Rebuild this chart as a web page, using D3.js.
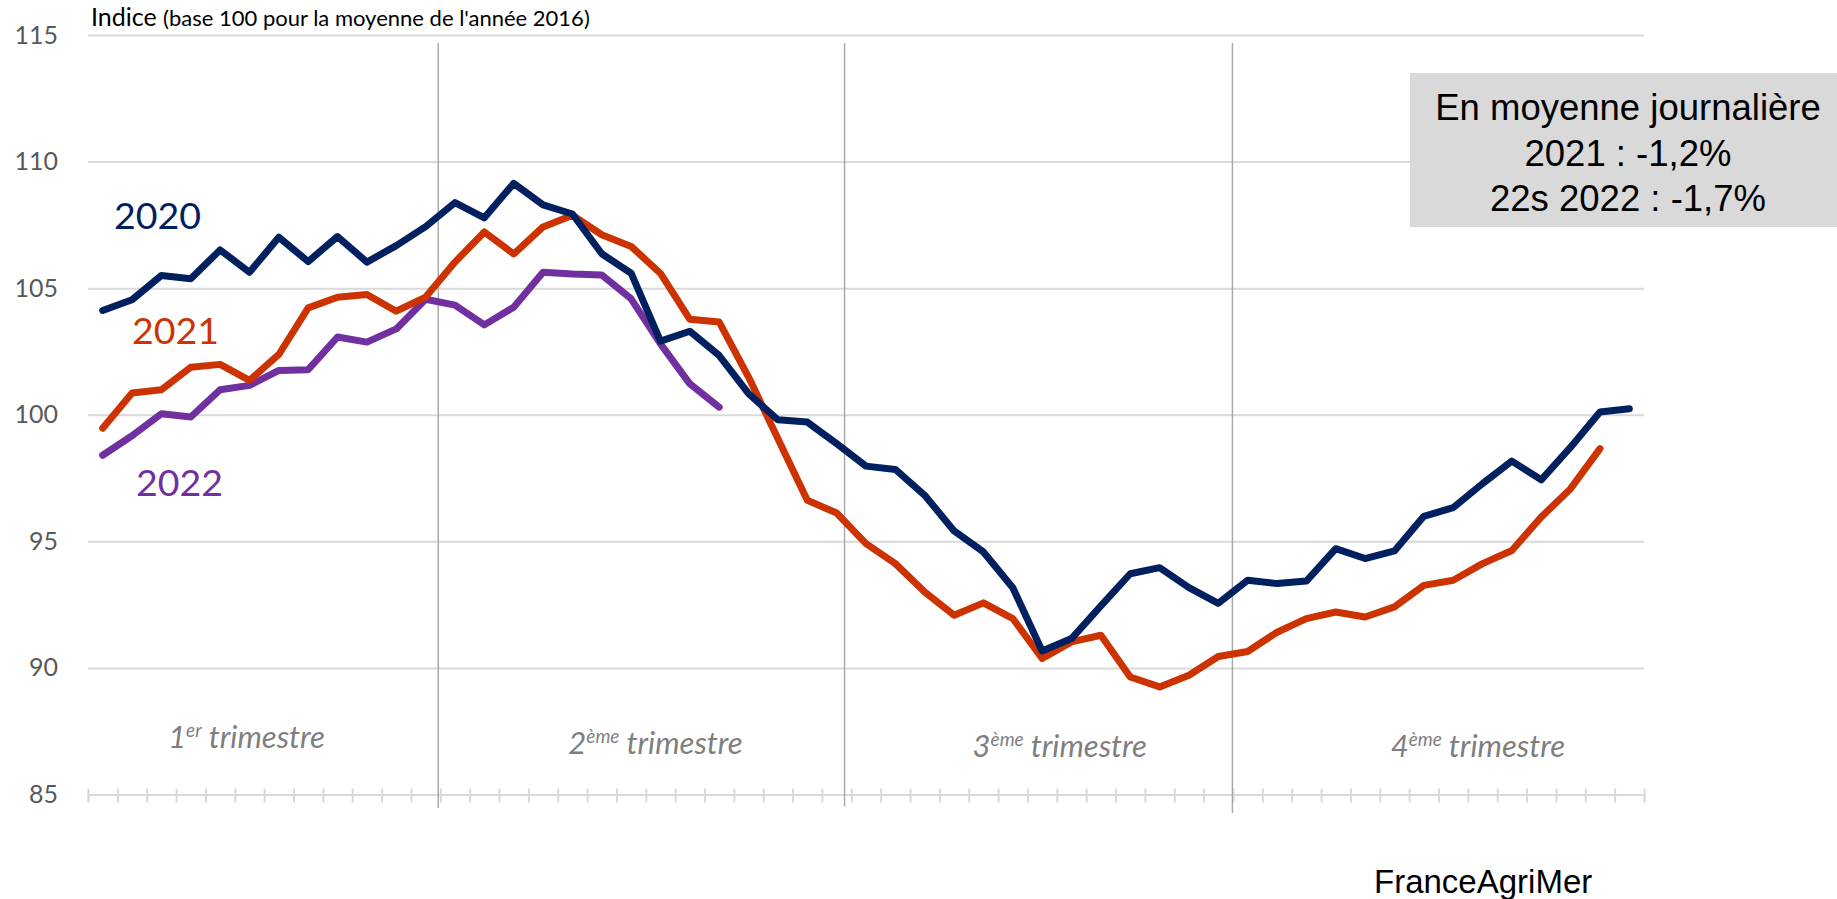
<!DOCTYPE html>
<html>
<head>
<meta charset="utf-8">
<script src="https://cdn.jsdelivr.net/npm/d3@7/dist/d3.min.js"></script>
<style>
  html, body { margin: 0; padding: 0; background: #ffffff; }
  svg { display: block; }
</style>
</head>
<body>
<svg id="chart" width="1837" height="899"></svg>
<script>
// ---------- DATA ----------
const weeks = d3.range(1, 54).map(w => "S" + w);   // 53 weekly categories
const yTicks = [85, 90, 95, 100, 105, 110, 115];

const values2020 = [104.12, 104.54, 105.50, 105.37, 106.51, 105.63, 107.01, 106.05, 107.04, 106.03,
  106.68, 107.43, 108.38, 107.78, 109.14, 108.29, 107.93, 106.36, 105.59, 102.91,
  103.30, 102.34, 100.83, 99.80, 99.71, 98.86, 97.97, 97.84, 96.82, 95.41,
  94.58, 93.17, 90.67, 91.16, 92.45, 93.72, 93.96, 93.17, 92.55, 93.46,
  93.33, 93.43, 94.71, 94.32, 94.62, 95.99, 96.33, 97.28, 98.17, 97.43,
  98.72, 100.11, 100.24];

const values2021 = [99.47, 100.86, 100.99, 101.88, 101.99, 101.36, 102.38, 104.22, 104.64, 104.75,
  104.09, 104.65, 106.03, 107.22, 106.35, 107.42, 107.88, 107.11, 106.65, 105.58,
  103.77, 103.66, 101.49, 99.05, 96.62, 96.12, 94.91, 94.12, 93.00, 92.08,
  92.57, 91.95, 90.37, 91.03, 91.29, 89.64, 89.25, 89.71, 90.45, 90.65,
  91.41, 91.95, 92.21, 92.01, 92.41, 93.26, 93.46, 94.12, 94.64, 95.96,
  97.08, 98.66];

const values2022 = [98.40, 99.17, 100.04, 99.91, 100.99, 101.16, 101.75, 101.78, 103.07, 102.87,
  103.39, 104.56, 104.33, 103.55, 104.25, 105.63, 105.56, 105.52, 104.58, 102.80,
  101.22, 100.30];

const seriesNames = ["2020", "2021", "2022"];
const seriesColors = ["#002060", "#CC3300", "#7030A0"];

// Quarter boundaries (in weeks from start) and quarter labels
const quarterBounds = [11.93, 25.77, 38.98];
const quarterNums = ["1", "2", "3", "4"];
const quarterSups = ["er", "ème", "ème", "ème"];
const quarterCenters = [5.4, 19.33, 33.1, 47.34];

const boxLines = ["En moyenne journalière", "2021 : -1,2%", "22s 2022 : -1,7%"];

// ---------- LAYOUT ----------
const svg = d3.select("#chart");
const plotLeft = 88, plotRight = 1644, plotTop = 35, plotBottom = 794.5;

const x = d3.scaleBand().domain(weeks).range([plotLeft, plotRight]).paddingInner(0).paddingOuter(0);
const xc = i => x(weeks[i]) + x.bandwidth() / 2;
const xw = d3.scaleLinear().domain([0, weeks.length]).range([plotLeft, plotRight]);
const y = d3.scaleLinear().domain([85, 115]).range([plotBottom, plotTop]);

// gridlines
const grid = svg.append("g")
  .attr("transform", `translate(${plotLeft},0)`)
  .call(d3.axisLeft(y).tickValues(yTicks).tickSize(-(plotRight - plotLeft)).tickFormat(""));
grid.select(".domain").remove();
grid.selectAll(".tick line").attr("stroke", "#d9d9d9").attr("stroke-width", 2);

// y labels
const yAx = svg.append("g")
  .attr("transform", `translate(${plotLeft},0)`)
  .call(d3.axisLeft(y).tickValues(yTicks).tickSize(0).tickPadding(30));
yAx.select(".domain").remove();
yAx.selectAll(".tick text")
  .attr("font-family", "Lato, 'Open Sans', sans-serif")
  .attr("font-size", 25)
  .attr("fill", "#595959");

// x axis tick marks (crossing)
const xAx = svg.append("g")
  .attr("transform", `translate(0,${plotBottom})`)
  .call(d3.axisBottom(xw).tickValues(d3.range(weeks.length + 1)).tickSize(7).tickFormat(""));
xAx.select(".domain").attr("stroke", "#d9d9d9").attr("stroke-width", 2);
xAx.selectAll(".tick line").attr("stroke", "#d9d9d9").attr("stroke-width", 2).attr("y1", -6).attr("y2", 8);

// quarter separators
const sepBottoms = [808, 806.5, 813];
svg.append("g").selectAll("line").data(quarterBounds).join("line")
  .attr("x1", d => xw(d)).attr("x2", d => xw(d))
  .attr("y1", 43).attr("y2", (d, i) => sepBottoms[i])
  .attr("stroke", "#a6a6a6").attr("stroke-width", 1.4);

// quarter labels
const qBase = [748, 754, 757, 757];
const ql = svg.append("g").selectAll("text").data(quarterNums).join("text")
  .attr("x", (d, i) => xw(quarterCenters[i]))
  .attr("y", (d, i) => qBase[i])
  .attr("text-anchor", "middle")
  .attr("font-family", "Lato, 'Open Sans', sans-serif")
  .attr("font-style", "italic")
  .attr("font-size", 31)
  .attr("fill", "#7f7f7f");
ql.append("tspan").text(d => d);
ql.append("tspan").attr("dy", -11).attr("font-size", 19).text((d, i) => quarterSups[i]);
ql.append("tspan").attr("dy", 11).text(" trimestre");

// lines
const line = d3.line().x((d, i) => xc(i)).y(d => y(d));
const allSeries = [values2020, values2021, values2022];
svg.append("g").selectAll("path").data([2, 1, 0]).join("path")
  .attr("d", k => line(allSeries[k]))
  .attr("fill", "none")
  .attr("stroke", k => seriesColors[k])
  .attr("stroke-width", 7)
  .attr("stroke-linejoin", "round")
  .attr("stroke-linecap", "round");

// series labels
const labPos = [[114, 229], [132, 344], [136, 496]];
svg.append("g").selectAll("text").data(seriesNames).join("text")
  .attr("x", (d, i) => labPos[i][0])
  .attr("y", (d, i) => labPos[i][1])
  .attr("font-family", "Lato, 'Open Sans', sans-serif")
  .attr("font-size", 37.5)
  .attr("fill", (d, i) => seriesColors[i])
  .text(d => d);

// title
const title = svg.append("text")
  .attr("x", 91).attr("y", 26)
  .attr("font-family", "Lato, 'Open Sans', sans-serif")
  .attr("fill", "#000");
title.append("tspan").attr("font-size", 25).text("Indice ");
title.append("tspan").attr("font-size", 22).text("(base 100 pour la moyenne de l'année 2016)");

// annotation box
svg.append("rect")
  .attr("x", 1410).attr("y", 73).attr("width", 1837 - 1410).attr("height", 154)
  .attr("fill", "#d9d9d9");
svg.append("g").selectAll("text").data(boxLines).join("text")
  .attr("x", 1628)
  .attr("y", (d, i) => [119.5, 166, 210.5][i])
  .attr("text-anchor", "middle")
  .attr("font-family", "'Liberation Sans', Arial, sans-serif")
  .attr("font-size", 36.5)
  .attr("fill", "#000")
  .text(d => d);

// source
svg.append("text")
  .attr("x", 1374).attr("y", 893)
  .attr("font-family", "'Liberation Sans', Arial, sans-serif")
  .attr("font-size", 33)
  .attr("fill", "#000")
  .text("FranceAgriMer");
</script>
</body>
</html>
